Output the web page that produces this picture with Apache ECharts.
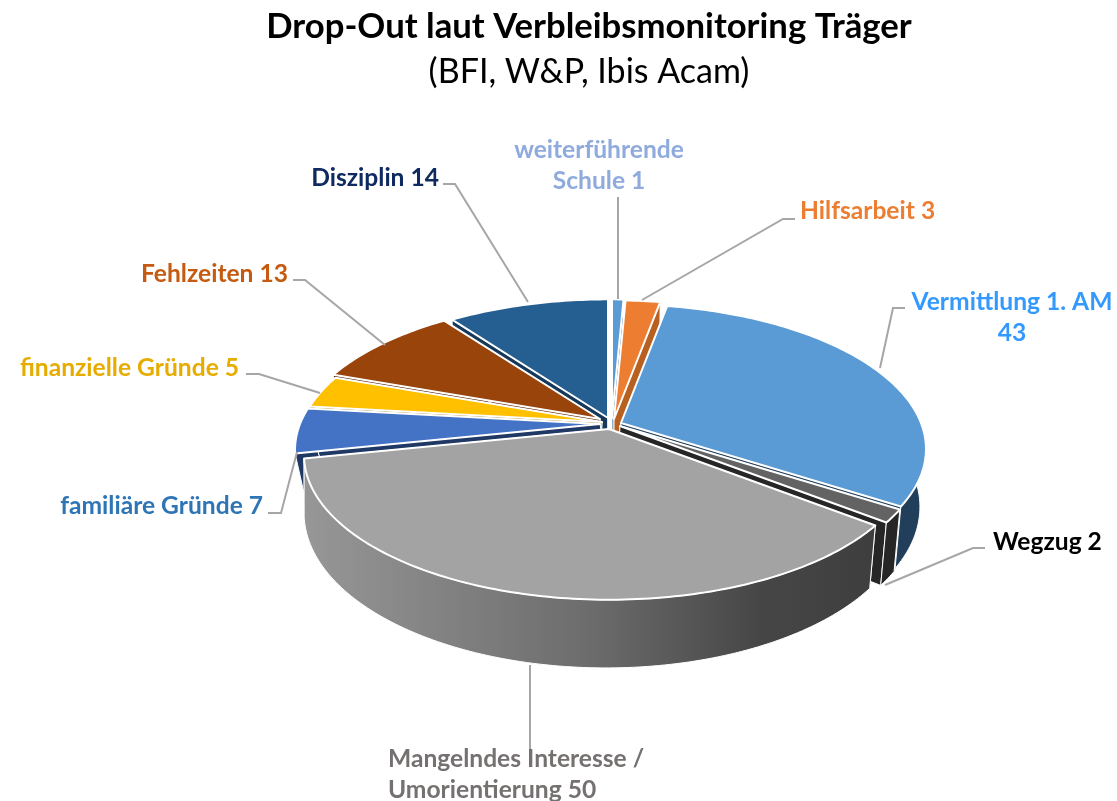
<!DOCTYPE html>
<html><head><meta charset="utf-8">
<style>html,body{margin:0;padding:0;background:#fff}#c{width:1117px;height:801px}</style>
<script src="https://cdn.jsdelivr.net/npm/echarts@6/dist/echarts.min.js"></script>
</head><body><div id="c"></div>
<script>
const chartTitle = 'Drop-Out laut Verbleibsmonitoring Träger';
const chartSubtitle = '(BFI, W&P, Ibis Acam)';
const categories = ['weiterführende\nSchule', 'Hilfsarbeit', 'Vermittlung 1. AM\n', 'Wegzug', 'Mangelndes Interesse /\nUmorientierung', 'familiäre Gründe', 'finanzielle Gründe', 'Fehlzeiten', 'Disziplin'];
const values = [1, 3, 43, 2, 50, 7, 5, 13, 14];

// styles
const topColors = ['#5b9bd5', '#ed7d31', '#5b9bd5', '#636363', '#a3a3a3', '#4472c4', '#ffc000', '#98440b', '#255e91'];
const wallColors = ['#2f5f8c', '#b8601f', '#213f5a', '#262626', null, '#1f3864', '#997300', '#5e2a07', '#16395a'];
const labelColors = ['#8faadc', '#ed7d31', '#3399ff', '#000000', '#767171', '#2e75b6', '#e6ac00', '#c55a11', '#0f2a60'];
// layout: apex of each exploded slice, label anchor, leader polyline
const apexes = [[612,418],[614,419],[621,423],[620,426],[609,429],[600,424],[602,422],[600,419],[608,418]];
const wallShiftX = [0,0,-3,-3,-3,10,-3,-3,0];
const labelAnchors = [[599,166,'center'],[800,211,'left'],[1012,318,'center'],[993,542,'left'],[388,775,'left'],[263,506,'right'],[239,368,'right'],[288,274,'right'],[439,178,'right']];
const leaders = [
  [[618,197],[618,299]],
  [[795,219],[783,219],[642,300]],
  [[905,308],[893,308],[880,368]],
  [[985,548],[973,548],[885,585]],
  [[530,665],[530,757]],
  [[268,513],[281,513],[297,452]],
  [[246,374],[259,374],[320,393]],
  [[293,280],[305,280],[385,345]],
  [[443,184],[455,184],[528,302]]
];
const drawRank = [1, 2, 5, 6, 7, 4, 3, 2, 0];
const RX = 300, RY = 140, K = 0.18;
const RXB = 297, RYB = 150, DEPTH = 56;
const total = values.reduce((a, b) => a + b, 0);

function rimPoint(apex, deg, bottom, shift) {
  const a = deg * Math.PI / 180, X = Math.sin(a), Y = -Math.cos(a), d = 1 - K * Y;
  return bottom
    ? [apex[0] + shift + RXB * X / d, apex[1] + DEPTH + RYB * Y / d]
    : [apex[0] + RX * X / d, apex[1] + RY * Y / d];
}
function arc(apex, a0, a1, bottom, shift) {
  const pts = [], n = Math.max(2, Math.ceil(Math.abs(a1 - a0)));
  for (let i = 0; i <= n; i++) pts.push(rimPoint(apex, a0 + (a1 - a0) * i / n, bottom, shift));
  return pts;
}
const grayWall = {type:'linear', x:0, y:0, x2:1, y2:0, colorStops:[
  {offset:0, color:'#979797'}, {offset:0.5, color:'#6c6c6c'}, {offset:0.8, color:'#464646'}, {offset:1, color:'#3e3e3e'}]};

let cum = 0;
const spans = values.map(v => { const s = [cum / total * 360, (cum + v) / total * 360]; cum += v; return s; });

function renderSlice(params, api) {
  const i = params.dataIndex, val = api.value(0), apex = apexes[i], sh = wallShiftX[i];
  const [a0, a1] = spans[i];
  const rank = drawRank[i] * 10, children = [];
  const wallFill = wallColors[i] || grayWall;
  const wallStyle = {stroke:'#ffffff', lineWidth:1, lineJoin:'round'};
  const solid = wallColors[i] || '#3e3e3e';
  const apexB = [apex[0] + sh, apex[1] + DEPTH];
  // radial side walls
  [a0, a1].forEach(a => {
    children.push({type:'polygon', z2:rank, shape:{points:[apex, rimPoint(apex,a,false,sh), rimPoint(apex,a,true,sh), apexB]},
      style:{fill:solid, ...wallStyle}});
  });
  // outer wall, only the part turned to the viewer
  const lo = Math.max(a0, 80), hi = Math.min(a1, 280);
  if (hi > lo) {
    children.push({type:'polygon', z2:rank+1, shape:{points:[...arc(apex,lo,hi,false,sh), ...arc(apex,hi,lo,true,sh)]},
      style:{fill:wallFill, ...wallStyle}});
  }
  // top face
  children.push({type:'polygon', z2:rank+2, shape:{points:[apex, ...arc(apex,a0,a1,false,sh)]},
    style:{fill:topColors[i], stroke:'#ffffff', lineWidth:2, lineJoin:'round'}});
  // leader
  children.push({type:'polyline', z2:200, shape:{points:leaders[i]}, style:{fill:null, stroke:'#a6a6a6', lineWidth:2}});
  // label
  const la = labelAnchors[i];
  const text = categories[i].endsWith('\n') ? categories[i] + val : categories[i] + ' ' + val;
  children.push({type:'text', z2:210, style:{text:text, x:la[0], y:la[1], align:la[2], verticalAlign:'middle',
    font:'bold 24.6px Lato', lineHeight:31, fill:labelColors[i]}});
  return {type:'group', children};
}

const chart = echarts.init(document.getElementById('c'), null, {renderer:'canvas'});
chart.setOption({
  animation:false,
  backgroundColor:'#ffffff',
  title:{
    text:chartTitle, subtext:chartSubtitle, left:584, top:4, textAlign:'center', itemGap:11,
    textStyle:{fontFamily:'Lato', fontWeight:'bold', fontSize:34.7, color:'#000000'},
    subtextStyle:{fontFamily:'Lato', fontWeight:'normal', fontSize:34, color:'#000000'}
  },
  series:[{
    type:'custom', coordinateSystem:'none', renderItem:renderSlice, silent:true,
    data:categories.map((c, i) => ({name:c, value:[values[i]]}))
  }]
});
</script></body></html>
